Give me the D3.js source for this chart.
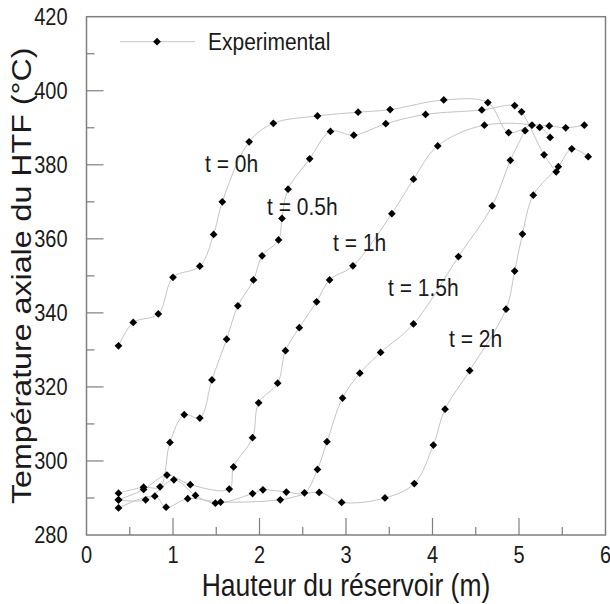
<!DOCTYPE html>
<html><head><meta charset="utf-8">
<script src="https://cdn.jsdelivr.net/npm/d3@7"></script>
<style>body{margin:0;background:#fff}svg{display:block}text{font-family:"Liberation Sans",Arial,sans-serif;fill:#1a1a1a}</style>
</head><body><svg id="c" width="610" height="604"></svg>
<script>
// ---- data ----
const xTickValues = [0,1,2,3,4,5,6];
const yTickValues = [280,300,320,340,360,380,400,420];
const seriesNames = ["t = 0h","t = 0.5h","t = 1h","t = 1.5h","t = 2h"];
const height0h = [0.37,0.54,0.83,1.00,1.31,1.47,1.57,1.88,2.16,2.67,3.14,3.51,4.13,4.64,4.88,5.15,5.35,5.54,5.755];
const temp0h   = [331.1,337.4,339.7,349.6,352.6,361.2,370.0,386.2,391.2,393.2,394.2,394.9,397.5,396.8,388.7,390.7,390.5,390.0,390.7];
const height05h = [0.37,0.66,0.85,0.965,1.13,1.31,1.45,1.62,1.75,1.93,2.03,2.22,2.26,2.33,2.58,2.82,3.09,3.46,3.92,4.57,4.95,5.03,5.29,5.43];
const temp05h   = [291.3,292.9,293.0,305.0,312.5,311.6,321.9,332.9,341.9,348.9,355.4,359.7,365.5,373.4,381.6,389.0,388.0,391.1,393.6,394.8,396.0,394.3,382.7,378.1];
const height1h = [0.37,0.66,0.93,1.20,1.65,1.70,1.92,1.99,2.21,2.30,2.46,2.66,2.81,3.08,3.53,3.78,4.06,4.60,5.24,5.36];
const temp1h   = [289.5,292.3,296.2,293.6,292.4,298.4,306.3,315.7,321.0,329.8,336.0,343.0,348.9,352.7,366.8,376.1,385.1,390.7,390.1,387.4];
const height15h = [0.37,0.684,1.01,1.26,1.49,1.92,2.04,2.31,2.52,2.67,2.78,2.96,3.16,3.40,3.78,4.30,4.69,4.90,5.07];
const temp15h   = [289.5,289.5,294.9,290.7,288.6,291.2,292.2,291.6,291.4,297.7,305.2,317.0,323.7,329.3,337.0,355.2,368.9,381.2,389.2];
const height2h = [0.37,0.79,0.92,1.17,1.55,2.24,2.69,2.95,3.45,3.79,4.01,4.145,4.43,4.85,4.95,5.04,5.165,5.455,5.61,5.80];
const temp2h   = [287.3,290.5,287.5,289.8,288.9,289.5,291.5,288.8,290.0,293.9,304.3,314.0,324.4,341.0,351.3,361.3,371.8,379.5,384.3,382.2];
const labelHeights = [1.37,2.087,2.85,3.486,4.191];
const labelTemps   = [380.2,368.7,358.9,346.7,332.9];

// ---- layout ----
const svg = d3.select("#c");
const L = 86.5, R = 605.5, T = 16.7, B = 535;
const x = d3.scaleLinear().domain([0,6]).range([L,R]);
const y = d3.scaleLinear().domain([280,420]).range([B,T]);
const axisCol = "#7f7f7f";
const SY = 1.15; // vertical stretch of the reference's text

const series = [
  [height0h,temp0h],[height05h,temp05h],[height1h,temp1h],[height15h,temp15h],[height2h,temp2h]
].map(([h,t]) => h.map((v,i)=>[v,t[i]]));

function stext(g, px, py, size, anchor, str){
  return g.append("text").attr("transform",`translate(${px},${py}) scale(1,${SY})`)
    .attr("text-anchor",anchor).attr("font-size",size).text(str);
}

// frame
svg.append("rect").attr("x",L).attr("y",T).attr("width",R-L).attr("height",B-T)
  .attr("fill","none").attr("stroke",axisCol).attr("stroke-width",1.5);

// x ticks (inward), major + minor
const xMinor = d3.range(0.5,6,1);
const gx = svg.append("g");
gx.selectAll("line.maj").data(xTickValues.slice(1,-1)).join("line")
  .attr("x1",d=>x(d)).attr("x2",d=>x(d)).attr("y1",B).attr("y2",B-17)
  .attr("stroke",axisCol).attr("stroke-width",1.2);
gx.selectAll("line.min").data(xMinor).join("line")
  .attr("x1",d=>x(d)).attr("x2",d=>x(d)).attr("y1",B).attr("y2",B-8)
  .attr("stroke",axisCol).attr("stroke-width",1.2);
xTickValues.forEach(d=>stext(gx, x(d), B+28, 20, "middle", d));

const yMinor = d3.range(290,420,20);
const gy = svg.append("g");
gy.selectAll("line.maj").data(yTickValues.slice(1,-1)).join("line")
  .attr("x1",L).attr("x2",L+17).attr("y1",d=>y(d)).attr("y2",d=>y(d))
  .attr("stroke",axisCol).attr("stroke-width",1.2);
gy.selectAll("line.min").data(yMinor).join("line")
  .attr("x1",L).attr("x2",L+8).attr("y1",d=>y(d)).attr("y2",d=>y(d))
  .attr("stroke",axisCol).attr("stroke-width",1.2);
yTickValues.forEach(d=>stext(gy, L-19, y(d)+8, 20, "end", d));

// titles
stext(svg, (L+R)/2, 596, 26.5, "middle", "Hauteur du réservoir (m)");
svg.append("text").attr("transform",`translate(31,${(T+B)/2}) rotate(-90) scale(${SY},1)`)
  .attr("text-anchor","middle").attr("font-size",28).text("Température axiale du HTF (°C)");

// lines
const line = d3.line().x(d=>x(d[0])).y(d=>y(d[1])).curve(d3.curveCatmullRom.alpha(0.5));
svg.append("g").selectAll("path").data(series).join("path")
  .attr("d",line).attr("fill","none").attr("stroke","#c4c4c4").attr("stroke-width",1);

// markers
const diamond = d3.symbol().type(d3.symbolSquare).size(30);
svg.append("g").selectAll("path").data(series.flat()).join("path")
  .attr("d",diamond).attr("transform",d=>`translate(${x(d[0])},${y(d[1])}) rotate(45)`)
  .attr("fill","#000");

// annotations
const ga = svg.append("g");
seriesNames.forEach((d,i)=>stext(ga, x(labelHeights[i]), y(labelTemps[i])+8, 21, "start", d));

// legend
svg.append("line").attr("x1",120).attr("x2",195).attr("y1",41.7).attr("y2",41.7)
  .attr("stroke","#c4c4c4").attr("stroke-width",1);
svg.append("path").attr("d",diamond).attr("transform","translate(157,41.7) rotate(45)").attr("fill","#000");
stext(svg, 208, 50, 21, "start", "Experimental");
</script></body></html>
